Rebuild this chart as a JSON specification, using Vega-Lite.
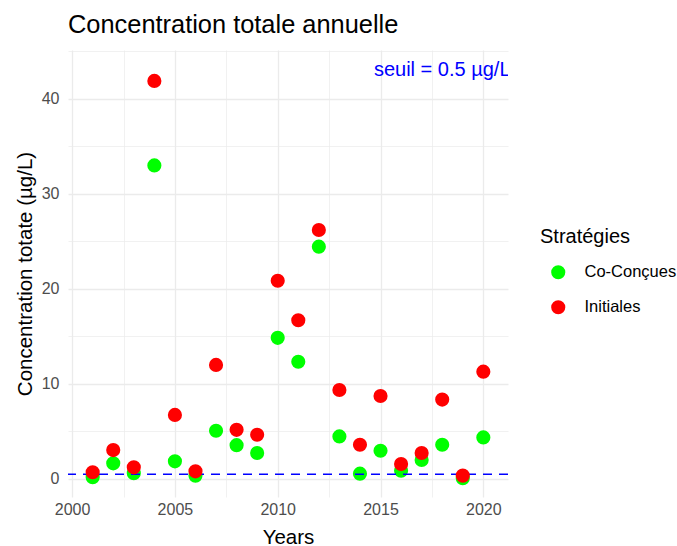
{
  "$schema": "https://vega.github.io/schema/vega-lite/v6.json",
  "width": 440,
  "height": 447,
  "autosize": {"type": "none"},
  "padding": {"left": 68, "top": 50, "right": 169, "bottom": 49},
  "background": "white",
  "config": {"view": {"stroke": null}, "font": "Liberation Sans"},
  "title": {"text": "Concentration totale annuelle", "anchor": "start", "frame": "group", "fontSize": 25.4, "fontWeight": "normal", "color": "black", "offset": 12, "font": "Liberation Sans"},
  "datasets": {
    "points": [
      {"year": 2001, "value": 0.18, "strategie": "Co-Conçues"},
      {"year": 2002, "value": 1.64, "strategie": "Co-Conçues"},
      {"year": 2003, "value": 0.6, "strategie": "Co-Conçues"},
      {"year": 2004, "value": 33.0, "strategie": "Co-Conçues"},
      {"year": 2005, "value": 1.85, "strategie": "Co-Conçues"},
      {"year": 2006, "value": 0.35, "strategie": "Co-Conçues"},
      {"year": 2007, "value": 5.07, "strategie": "Co-Conçues"},
      {"year": 2008, "value": 3.56, "strategie": "Co-Conçues"},
      {"year": 2009, "value": 2.73, "strategie": "Co-Conçues"},
      {"year": 2010, "value": 14.85, "strategie": "Co-Conçues"},
      {"year": 2011, "value": 12.34, "strategie": "Co-Conçues"},
      {"year": 2012, "value": 24.45, "strategie": "Co-Conçues"},
      {"year": 2013, "value": 4.48, "strategie": "Co-Conçues"},
      {"year": 2014, "value": 0.56, "strategie": "Co-Conçues"},
      {"year": 2015, "value": 2.97, "strategie": "Co-Conçues"},
      {"year": 2016, "value": 0.87, "strategie": "Co-Conçues"},
      {"year": 2017, "value": 1.99, "strategie": "Co-Conçues"},
      {"year": 2018, "value": 3.6, "strategie": "Co-Conçues"},
      {"year": 2019, "value": 0.07, "strategie": "Co-Conçues"},
      {"year": 2020, "value": 4.37, "strategie": "Co-Conçues"},
      {"year": 2001, "value": 0.7, "strategie": "Initiales"},
      {"year": 2002, "value": 3.04, "strategie": "Initiales"},
      {"year": 2003, "value": 1.22, "strategie": "Initiales"},
      {"year": 2004, "value": 41.9, "strategie": "Initiales"},
      {"year": 2005, "value": 6.74, "strategie": "Initiales"},
      {"year": 2006, "value": 0.8, "strategie": "Initiales"},
      {"year": 2007, "value": 12.0, "strategie": "Initiales"},
      {"year": 2008, "value": 5.17, "strategie": "Initiales"},
      {"year": 2009, "value": 4.65, "strategie": "Initiales"},
      {"year": 2010, "value": 20.86, "strategie": "Initiales"},
      {"year": 2011, "value": 16.7, "strategie": "Initiales"},
      {"year": 2012, "value": 26.2, "strategie": "Initiales"},
      {"year": 2013, "value": 9.36, "strategie": "Initiales"},
      {"year": 2014, "value": 3.6, "strategie": "Initiales"},
      {"year": 2015, "value": 8.73, "strategie": "Initiales"},
      {"year": 2016, "value": 1.57, "strategie": "Initiales"},
      {"year": 2017, "value": 2.73, "strategie": "Initiales"},
      {"year": 2018, "value": 8.35, "strategie": "Initiales"},
      {"year": 2019, "value": 0.35, "strategie": "Initiales"},
      {"year": 2020, "value": 11.29, "strategie": "Initiales"}
    ],
    "seuil": [{"value": 0.5}],
    "label": [{"year": 2018, "value": 43, "text": "seuil = 0.5 µg/L"}]
  },
  "encoding": {
    "y": {
      "field": "value",
      "type": "quantitative",
      "scale": {"domain": [-1.9, 45.15], "nice": false, "zero": false},
      "axis": {
        "title": "Concentration totate (µg/L)",
        "values": [0, 5, 10, 15, 20, 25, 30, 35, 40, 45],
        "labelExpr": "datum.value % 10 === 0 ? datum.label : ''",
        "domain": false, "ticks": false,
        "gridColor": "#EBEBEB",
        "gridWidth": {"condition": {"test": "datum.value % 10 === 0", "value": 1.3}, "value": 0.7},
        "labelFontSize": 16, "labelColor": "#4D4D4D", "labelPadding": 9,
        "titleFontSize": 20.5, "titleFontWeight": "normal", "titleColor": "black", "titlePadding": 6
      }
    }
  },
  "layer": [
    {
      "data": {"name": "points"},
      "transform": [{"filter": "datum.strategie === 'Co-Conçues'"}],
      "mark": {"type": "circle", "size": 200, "opacity": 1},
      "encoding": {
        "x": {
          "field": "year", "type": "quantitative",
          "scale": {"domain": [1999.8, 2021.2], "nice": false, "zero": false},
          "axis": {
            "title": "Years",
            "values": [2000, 2002.5, 2005, 2007.5, 2010, 2012.5, 2015, 2017.5, 2020],
            "labelExpr": "datum.value % 5 === 0 ? datum.value : ''",
            "domain": false, "ticks": false,
            "gridColor": "#EBEBEB",
            "gridWidth": {"condition": {"test": "datum.value % 5 === 0", "value": 1.3}, "value": 0.7},
            "labelFontSize": 16, "labelColor": "#4D4D4D", "labelPadding": 4,
            "titleFontSize": 20.5, "titleFontWeight": "normal", "titleColor": "black", "titlePadding": 10
          }
        },
        "color": {
          "field": "strategie", "type": "nominal",
          "scale": {"domain": ["Co-Conçues", "Initiales"], "range": ["#00FF00", "#FF0000"]},
          "legend": {
            "title": "Stratégies", "orient": "none", "legendX": 472, "legendY": 177,
            "titleFontSize": 20, "titleFontWeight": "normal", "titleColor": "black", "titlePadding": 17,
            "labelFontSize": 16.5, "labelColor": "black", "labelOffset": 18,
            "symbolSize": 200, "symbolType": "circle", "rowPadding": 18, "symbolOffset": 10
          }
        }
      }
    },
    {
      "data": {"name": "seuil"},
      "mark": {"type": "rule", "color": "#0000FF", "strokeDash": [9, 7], "strokeWidth": 1.6},
      "encoding": {}
    },
    {
      "data": {"name": "points"},
      "transform": [{"filter": "datum.strategie === 'Initiales'"}],
      "mark": {"type": "circle", "size": 200, "opacity": 1},
      "encoding": {
        "x": {"field": "year", "type": "quantitative", "scale": {"domain": [1999.8, 2021.2], "nice": false, "zero": false}},
        "color": {"field": "strategie", "type": "nominal", "scale": {"domain": ["Co-Conçues", "Initiales"], "range": ["#00FF00", "#FF0000"]}}
      }
    },
    {
      "data": {"name": "label"},
      "mark": {"type": "text", "clip": true, "color": "#0000FF", "fontSize": 20, "align": "center", "baseline": "middle", "font": "Liberation Sans"},
      "encoding": {
        "x": {"field": "year", "type": "quantitative", "scale": {"domain": [1999.8, 2021.2], "nice": false, "zero": false}},
        "text": {"field": "text"}
      }
    }
  ]
}
